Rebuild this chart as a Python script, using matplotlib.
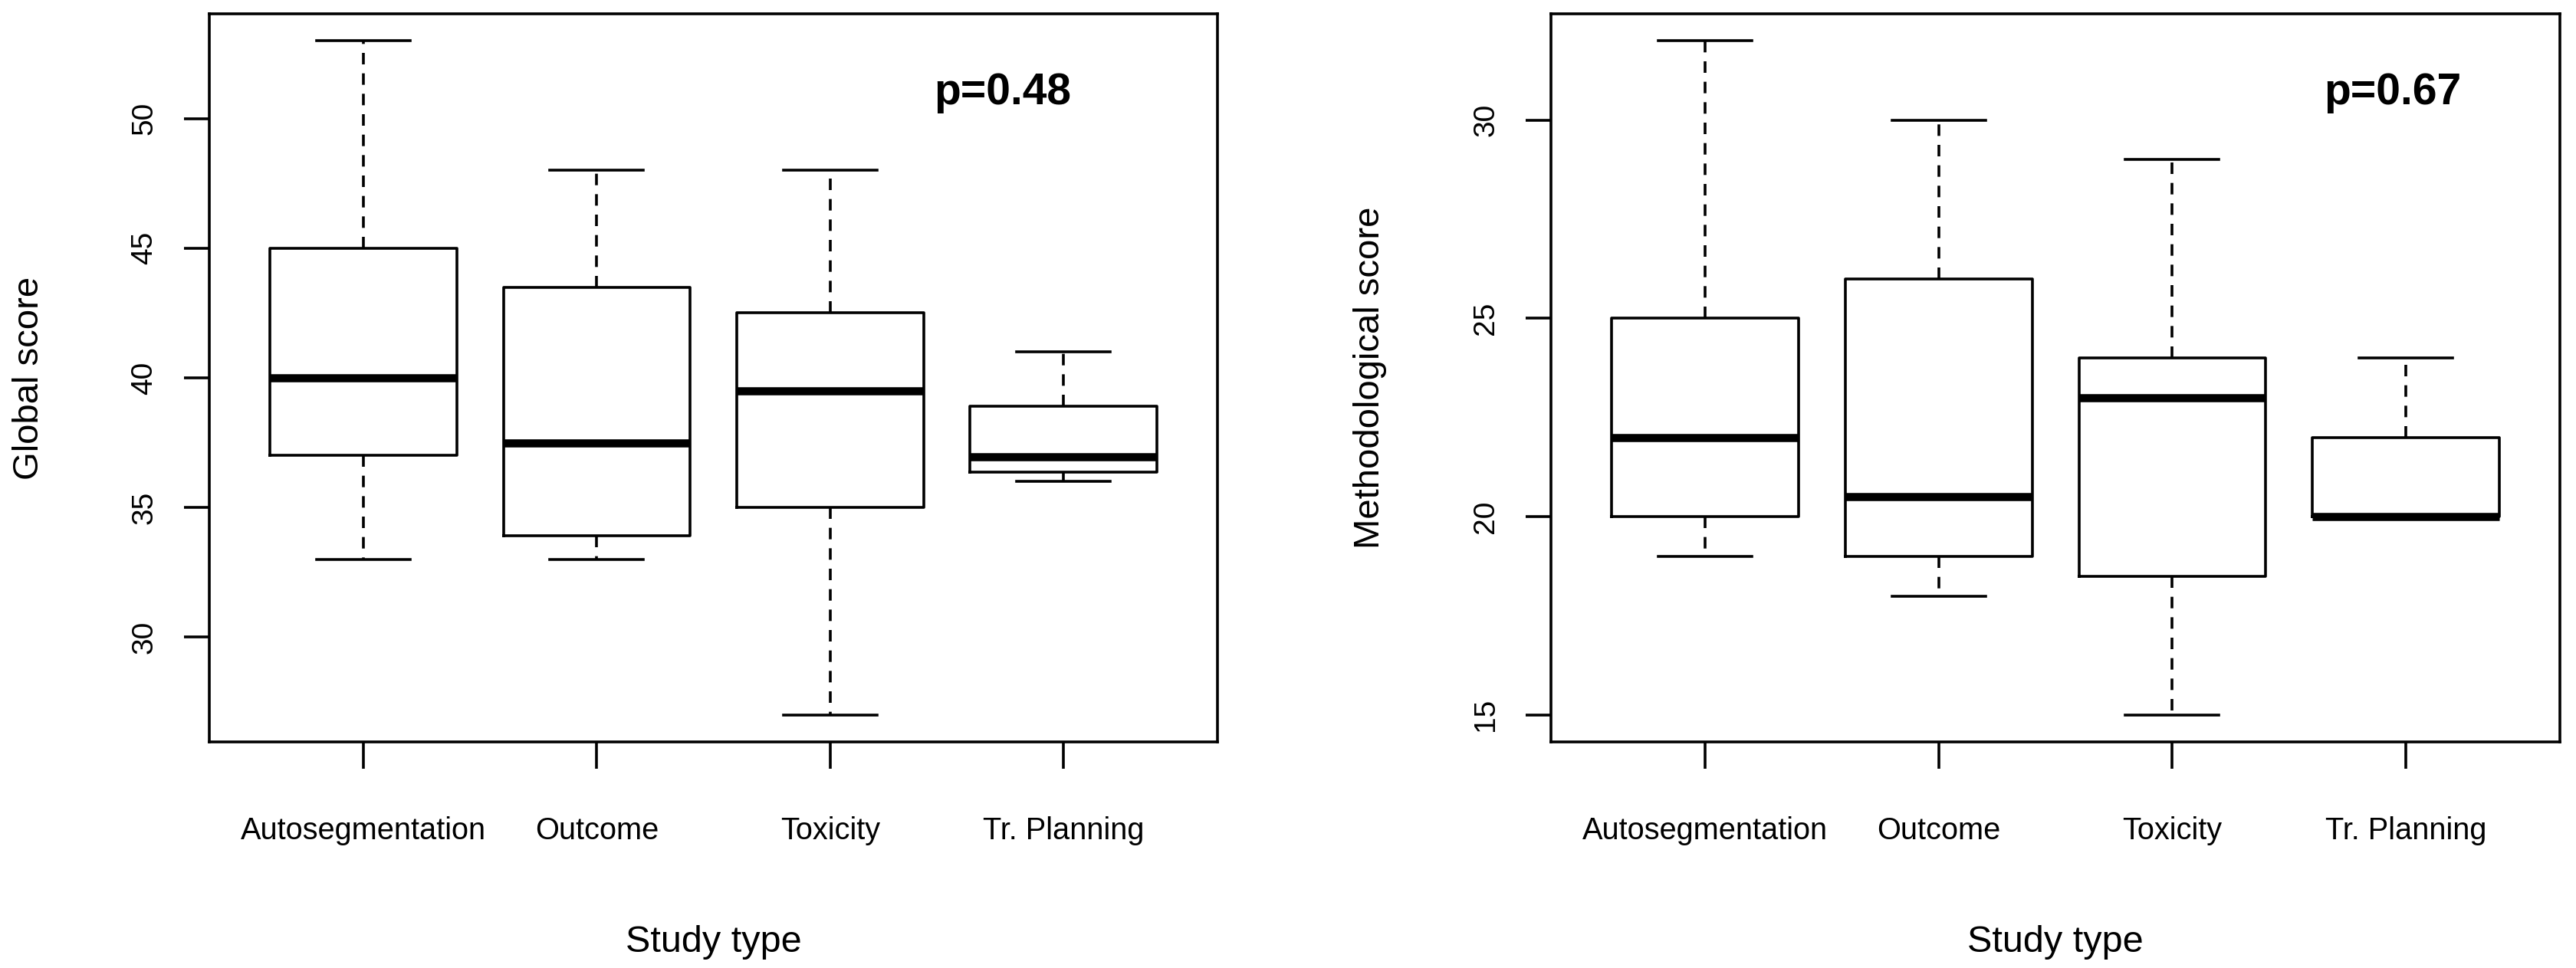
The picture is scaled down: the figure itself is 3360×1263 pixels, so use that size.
import matplotlib
matplotlib.use("Agg")
import matplotlib.pyplot as plt

plt.rcParams['font.family'] = ['Liberation Sans', 'DejaVu Sans']
plt.rcParams['lines.scale_dashes'] = False

# study types on the x axis
study_types = ["Autosegmentation", "Outcome", "Toxicity", "Tr. Planning"]

# Global score: whisker low, Q1, median, Q3, whisker high
global_low = [33, 33, 27, 36]
global_q1 = [37, 33.9, 35, 36.35]
global_med = [40, 37.5, 39.5, 36.95]
global_q3 = [45, 43.5, 42.5, 38.9]
global_high = [53, 48, 48, 41]
global_p = "p=0.48"

# Methodological score
method_low = [19, 18, 15, 20]
method_q1 = [20, 19, 18.5, 20]
method_med = [22, 20.5, 23, 20]
method_q3 = [25, 26, 24, 22]
method_high = [32, 30, 29, 24]
method_p = "p=0.67"

LW = 1.3


def make_stats(low, q1, med, q3, high):
    stats = []
    for i in range(len(study_types)):
        stats.append({'whislo': low[i], 'q1': q1[i], 'med': med[i],
                      'q3': q3[i], 'whishi': high[i], 'fliers': []})
    return stats


def draw_panel(ax, stats, ylabel, yticks, ptext, px):
    ax.bxp(stats, positions=range(1, len(stats) + 1), widths=0.8,
           capwidths=0.4, showfliers=False,
           boxprops=dict(color='black', linewidth=LW),
           whiskerprops=dict(color='black', linewidth=LW,
                             linestyle=(0, (5.4, 4.2))),
           capprops=dict(color='black', linewidth=LW),
           medianprops=dict(color='black', linewidth=3.8,
                            solid_capstyle='butt'))

    # R style axis extent (4% padding)
    lo = min(s['whislo'] for s in stats)
    hi = max(s['whishi'] for s in stats)
    pad = (hi - lo) * 0.04
    ax.set_ylim(lo - pad, hi + pad)
    ax.set_xlim(0.34, 4.66)

    ax.set_xticks(range(1, len(stats) + 1))
    ax.set_xticklabels(study_types, fontsize=14.3)
    ax.set_yticks(yticks)
    ax.set_yticklabels([str(t) for t in yticks], fontsize=14,
                       rotation=90, va='center')
    ax.tick_params(axis='x', length=12.5, width=LW, pad=22.5)
    ax.tick_params(axis='y', length=12, width=LW, pad=12)
    for sp in ax.spines.values():
        sp.set_linewidth(LW)

    ax.set_xlabel("Study type", fontsize=17.5)
    ax.xaxis.set_label_coords(0.5, -0.252)
    ax.set_ylabel(ylabel, fontsize=17, va='center')
    ax.yaxis.set_label_coords(-0.179, 0.5)

    ax.text(px, 0.892, ptext, transform=ax.transAxes, fontsize=20.5,
            fontweight='bold', ha='center', va='center')


fig = plt.figure(figsize=(16.8, 6.315), dpi=200)
ax1 = fig.add_axes([0.08125, 0.2336, 0.3914, 0.7522])
ax2 = fig.add_axes([0.60208, 0.2336, 0.3917, 0.7522])

draw_panel(ax1, make_stats(global_low, global_q1, global_med, global_q3, global_high),
           "Global score", [30, 35, 40, 45, 50], global_p, 0.787)
draw_panel(ax2, make_stats(method_low, method_q1, method_med, method_q3, method_high),
           "Methodological score", [15, 20, 25, 30], method_p, 0.834)

fig.savefig("out.png", dpi=200, facecolor='white')
